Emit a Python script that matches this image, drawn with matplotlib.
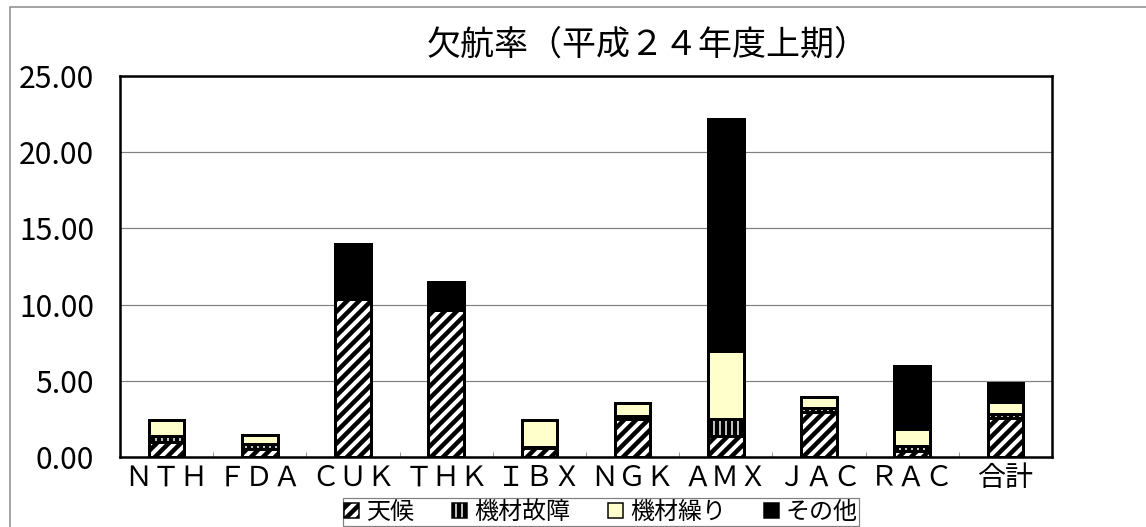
import numpy as np
import matplotlib
matplotlib.use("Agg")
import matplotlib.pyplot as plt
from matplotlib.patches import Rectangle

plt.rcParams['font.family'] = ['Noto Sans CJK JP', 'DejaVu Sans']
plt.rcParams['hatch.linewidth'] = 4.5

# 欠航率 data
cats = ['ＮＴＨ', 'ＦＤＡ', 'ＣＵＫ', 'ＴＨＫ', 'ＩＢＸ', 'ＮＧＫ', 'ＡＭＸ', 'ＪＡＣ', 'ＲＡＣ', '合計']
weather = [0.96, 0.50, 10.37, 9.65, 0.62, 2.52, 1.38, 2.97, 0.39, 2.54]
failure = [0.42, 0.35, 0.00, 0.00, 0.06, 0.17, 1.09, 0.22, 0.35, 0.28]
rotation = [1.05, 0.57, 0.00, 0.00, 1.75, 0.87, 4.51, 0.77, 1.08, 0.81]
other = [0.00, 0.00, 3.59, 1.81, 0.00, 0.00, 15.22, 0.00, 4.17, 1.21]
series_names = ['天候', '機材故障', '機材繰り', 'その他']
yticks = [0, 5, 10, 15, 20, 25]
title = '欠航率（平成２４年度上期）'

W, H = 1146, 527
DPI = 72
fig = plt.figure(figsize=(W / DPI, H / DPI), dpi=DPI)
ax = fig.add_axes([120 / W, 1 - 457 / H, (1052 - 120) / W, (457 - 76) / H])

x = np.arange(len(cats))
bw = 0.38
lw = 3
styles = [
    dict(color='white', hatch='//'),
    dict(color='white', hatch='||'),
    dict(color='#FFFFCC', hatch=None),
    dict(color='black', hatch=None),
]
bottom = np.zeros(len(cats))
handles = []
for vals, st, name in zip([weather, failure, rotation, other], styles, series_names):
    vals = np.array(vals)
    b = ax.bar(x, vals, bw, bottom=bottom, color=st['color'], hatch=st['hatch'],
               edgecolor='black', linewidth=lw, label=name, zorder=3)
    handles.append(b)
    bottom += vals

ax.set_xlim(-0.5, len(cats) - 0.5)
ax.set_ylim(0, 25)
ax.set_yticks(yticks)
ax.set_yticklabels([f"{v:.2f}" for v in yticks], fontsize=30)
ax.tick_params(axis='y', length=0, pad=26)
ax.set_xticks(x)
ax.set_xticklabels(cats, fontsize=28)
ax.tick_params(axis='x', length=0, pad=6)
ax.set_xticks(np.arange(0.5, len(cats) - 1, 1), minor=True)
ax.tick_params(axis='x', which='minor', direction='in', length=5, width=1, color='#999999')
ax.grid(axis='y', color='#808080', linewidth=1.2, zorder=0)
ax.set_axisbelow(True)
for s in ax.spines.values():
    s.set_linewidth(2.5)
    s.set_color('black')

fig.text(648 / W, 1 - 45 / H, title, fontsize=34, ha='center', va='center')

leg = fig.legend(handles=handles, labels=series_names, loc='upper left',
                 bbox_to_anchor=(343 / W, 1 - 498 / H), bbox_transform=fig.transFigure,
                 borderaxespad=0, ncol=4, fontsize=24, handlelength=0.6, handleheight=0.6,
                 handletextpad=0.3, columnspacing=1.6, borderpad=0.05,
                 fancybox=False, framealpha=1, edgecolor='#808080')
leg.get_frame().set_linewidth(1.2)
for h in leg.legend_handles:
    h.set_linewidth(1.5)

fig.patches.append(Rectangle((10 / W, -0.1), 1.2, 1.1 - 7 / H, transform=fig.transFigure,
                             fill=False, edgecolor='#888888', linewidth=1.5, zorder=-1))

fig.savefig('out.png', dpi=DPI)
